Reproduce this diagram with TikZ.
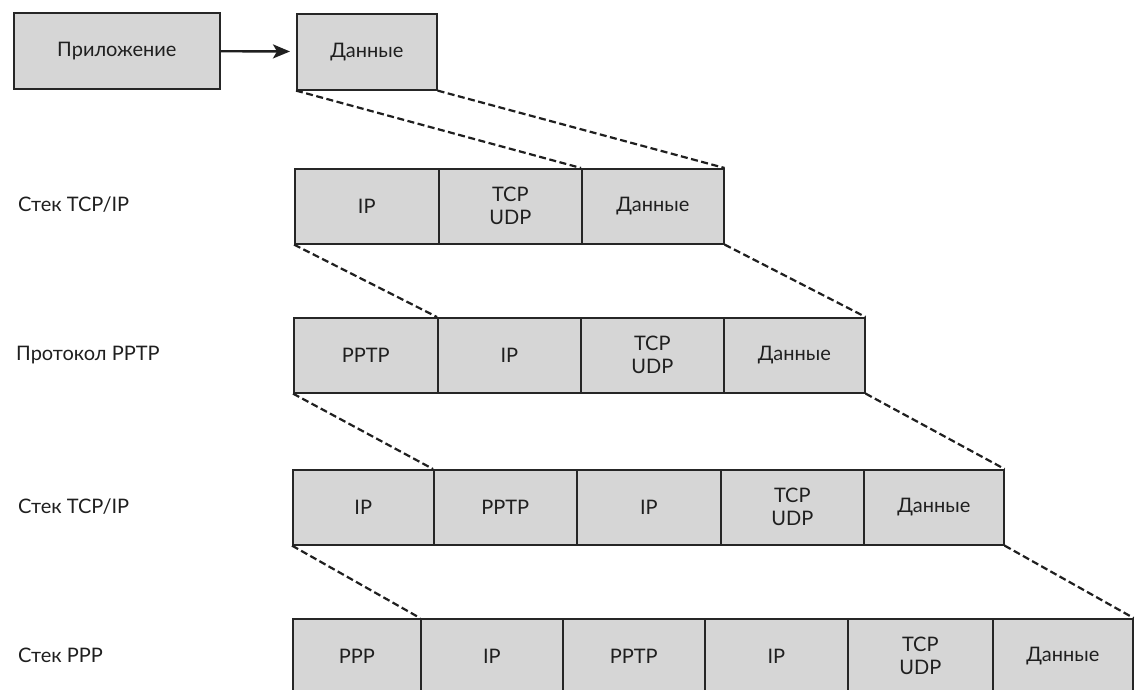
\documentclass[tikz,border=0pt]{standalone}
\usepackage{fontspec}
\setmainfont{Lato}
\usetikzlibrary{arrows.meta}

\definecolor{cellgray}{gray}{0.84}
\definecolor{edge}{gray}{0.15}
\definecolor{ink}{gray}{0.12}

\tikzset{
  cell/.style={draw=edge, fill=cellgray, line width=1.6pt, anchor=north west,
    minimum height=75pt, inner sep=0pt, align=center, text=ink,
    font=\fontsize{20}{23}\selectfont},
  rowlabel/.style={anchor=west, inner sep=0pt, text=ink,
    font=\fontsize{20}{23}\selectfont},
  link/.style={draw=ink, line width=2.2pt, dash pattern=on 7pt off 3.5pt},
  flow/.style={draw=ink, line width=2.4pt,
    -{Stealth[length=17pt, width=14pt, inset=4pt]}, shorten >=6pt}
}

\begin{document}
\begin{tikzpicture}[x=1pt, y=-1pt]
  \useasboundingbox (0,0) rectangle (1146,690);
  \clip (0,0) rectangle (1146,690);

  % application data
  \node[cell, minimum width=206pt, minimum height=76pt] (app) at (13,12) {Приложение};
  \node[cell, minimum width=140pt, minimum height=76pt] (data) at (296,13) {Данные};
  \draw[flow] (app) -- (data);

  % TCP/IP stack
  \node[rowlabel] (l1) at (18,205) {Стек TCP/IP};
  \node[cell, minimum width=144pt] (r1a) at (294,168) {IP};
  \node[cell, minimum width=143pt] (r1b) at (438,168) {TCP\\UDP};
  \node[cell, minimum width=142pt] (r1c) at (581,168) {Данные};

  % PPTP
  \node[rowlabel] (l2) at (16,355) {Протокол PPTP};
  \node[cell, minimum width=144pt] (r2a) at (293,317) {PPTP};
  \node[cell, minimum width=143pt] (r2b) at (437,317) {IP};
  \node[cell, minimum width=143pt] (r2c) at (580,317) {TCP\\UDP};
  \node[cell, minimum width=141pt] (r2d) at (723,317) {Данные};

  % TCP/IP stack again
  \node[rowlabel] (l3) at (18,507) {Стек TCP/IP};
  \node[cell, minimum width=141pt] (r3a) at (292,469) {IP};
  \node[cell, minimum width=143pt] (r3b) at (433,469) {PPTP};
  \node[cell, minimum width=144pt] (r3c) at (576,469) {IP};
  \node[cell, minimum width=143pt] (r3d) at (720,469) {TCP\\UDP};
  \node[cell, minimum width=140pt] (r3e) at (863,469) {Данные};

  % PPP stack
  \node[rowlabel] (l4) at (18,655) {Стек PPP};
  \node[cell, minimum width=128pt] (r4a) at (292,618) {PPP};
  \node[cell, minimum width=142pt] (r4b) at (420,618) {IP};
  \node[cell, minimum width=142pt] (r4c) at (562,618) {PPTP};
  \node[cell, minimum width=143pt] (r4d) at (704,618) {IP};
  \node[cell, minimum width=145pt] (r4e) at (847,618) {TCP\\UDP};
  \node[cell, minimum width=140pt] (r4f) at (992,618) {Данные};

  % encapsulation guides
  \draw[link] (data.south west) -- (r1c.north west);
  \draw[link] (data.south east) -- (r1c.north east);
  \draw[link] (r1a.south west) -- (r2b.north west);
  \draw[link] (r1c.south east) -- (r2d.north east);
  \draw[link] (r2a.south west) -- (r3b.north west);
  \draw[link] (r2d.south east) -- (r3e.north east);
  \draw[link] (r3a.south west) -- (r4b.north west);
  \draw[link] (r3e.south east) -- (r4f.north east);
\end{tikzpicture}
\end{document}
